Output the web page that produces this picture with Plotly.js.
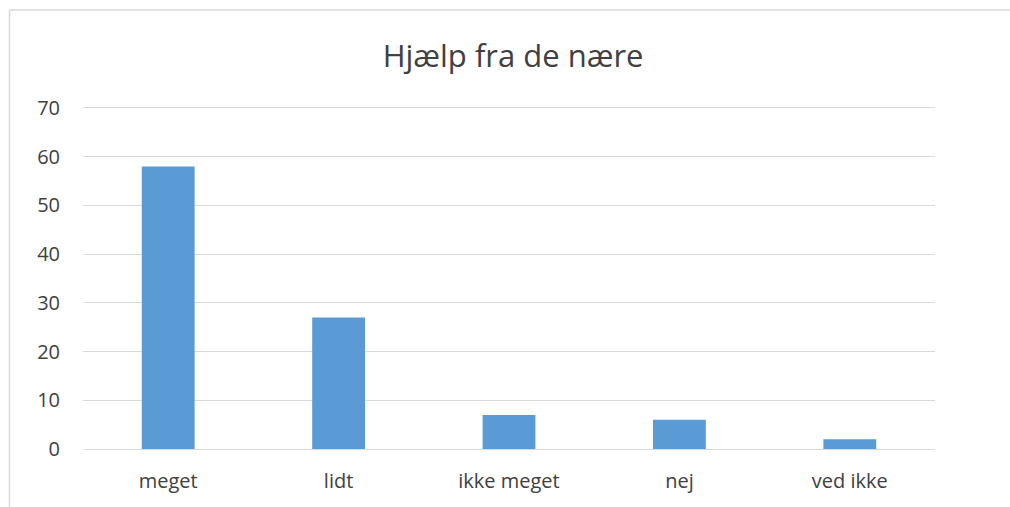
<!DOCTYPE html>
<html><head><meta charset="utf-8">
<script src="https://cdn.plot.ly/plotly-3.0.1.min.js"></script>
<style>html,body{margin:0;padding:0;background:#fff}#chart{width:1010px;height:507px}</style>
</head><body><div id="chart"></div>
<script>
const categories = ["meget", "lidt", "ikke meget", "nej", "ved ikke"];
const values = [58, 27, 7, 6, 2];
const yTicks = [0, 10, 20, 30, 40, 50, 60, 70];
const chartTitle = "Hjælp fra de nære";

const font = "Open Sans, Noto Sans, sans-serif";
Plotly.newPlot("chart", [{
  type: "bar", x: categories, y: values,
  marker: {color: "#5B9BD5"}, hoverinfo: "x+y"
}], {
  width: 1010, height: 507,
  margin: {l: 83, r: 75, t: 106, b: 58},
  paper_bgcolor: "#fff", plot_bgcolor: "#fff",
  bargap: 0.69,
  title: {text: chartTitle, x: 0.508, xanchor: "center", y: 0.89, yanchor: "middle",
          font: {family: font, size: 31, color: "#404040"}},
  xaxis: {showgrid: false, showline: true, linecolor: "#d9d9d9", linewidth: 1, ticks: "",
          ticklabelstandoff: 14,
          tickfont: {family: font, size: 20, color: "#404040"}, fixedrange: true},
  yaxis: {range: [0, 70.4], tickvals: yTicks, showgrid: true, gridcolor: "#d9d9d9", gridwidth: 1,
          zeroline: false, ticks: "", ticklabelstandoff: 22,
          tickfont: {family: font, size: 20, color: "#404040"}, fixedrange: true},
  shapes: [
    {type: "line", xref: "paper", yref: "paper", x0: -0.0863, x1: -0.0863, y0: 1.28, y1: -0.3, line: {color: "#d9d9d9", width: 1.5}},
    {type: "line", xref: "paper", yref: "paper", x0: -0.0863, x1: 1.2, y0: 1.28, y1: 1.28, line: {color: "#d9d9d9", width: 1.5}}
  ],
  showlegend: false
}, {displayModeBar: false, staticPlot: true});
</script></body></html>
